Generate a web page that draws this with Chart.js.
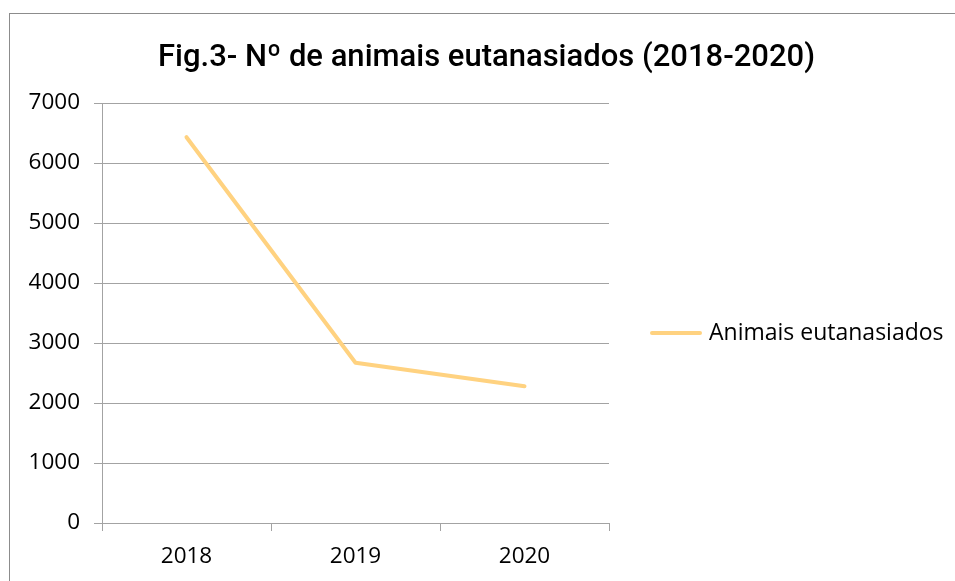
<!DOCTYPE html>
<html>
<head>
<meta charset="utf-8">
<script src="https://cdn.jsdelivr.net/npm/chart.js@4.4.1/dist/chart.umd.min.js"></script>
<style>
  body { margin: 0; overflow: hidden; background: #fff; }
  #frame { position: absolute; left: 9px; top: 13px; width: 2000px; height: 2000px;
           border-left: 1px solid #8c8c8c; border-top: 1px solid #8c8c8c; pointer-events: none; }
</style>
</head>
<body>
<canvas id="graph" width="955" height="581"></canvas>
<div id="frame"></div>
<script>
const years = ["2018", "2019", "2020"];
const euthanized = [6430, 2670, 2280];
const yTicks = [0, 1000, 2000, 3000, 4000, 5000, 6000, 7000];

const gridGray = '#a3a3a3';
const tickFont = { family: 'Open Sans', size: 22.5 };

// legend drawn by hand so it sits where the reference has it
const sideLegend = {
    id: 'sideLegend',
    afterDraw(chart) {
        const ctx = chart.ctx;
        const ds = chart.data.datasets[0];
        const y = 333;
        ctx.save();
        ctx.strokeStyle = ds.borderColor;
        ctx.lineWidth = 4;
        ctx.lineCap = 'round';
        ctx.beginPath();
        ctx.moveTo(652, y);
        ctx.lineTo(700, y);
        ctx.stroke();
        ctx.fillStyle = '#000';
        ctx.font = '23px "Open Sans"';
        ctx.textBaseline = 'middle';
        ctx.fillText(ds.label, 709, y);
        ctx.restore();
    }
};

let myChart = new Chart(document.getElementById('graph').getContext('2d'), {
    type: "line",
    data: {
        labels: years,
        datasets: [
            {
                label: "Animais eutanasiados",
                data: euthanized,
                borderColor: '#ffd280',
                borderWidth: 4,
                borderCapStyle: 'round',
                borderJoinStyle: 'round',
                pointRadius: 0,
                tension: 0,
                fill: false,
            },
        ],
    },
    options: {
        responsive: false,
        animation: false,
        layout: {
            padding: { left: 18, top: 0, right: 0, bottom: 0 },
        },
        plugins: {
            legend: { display: false },
            tooltip: { enabled: false },
            title: {
                display: true,
                text: "Fig.3- Nº de animais eutanasiados (2018-2020)",
                color: '#000',
                font: { family: 'Roboto', size: 31, weight: '500' },
                padding: { top: 40, bottom: 25.8 },
            },
        },
        scales: {
            x: {
                offset: true,
                grid: {
                    display: true,
                    offset: true,
                    drawOnChartArea: false,
                    drawTicks: true,
                    tickLength: 8,
                    color: gridGray,
                },
                border: { display: true, color: gridGray },
                ticks: { color: '#000', font: tickFont, padding: 12 },
                afterFit: s => { s.height = 58; },
            },
            y: {
                min: 0,
                max: 7000,
                afterBuildTicks: s => { s.ticks = yTicks.map(v => ({ value: v })); },
                grid: { color: gridGray, tickLength: 8 },
                border: { display: true, color: gridGray },
                ticks: { color: '#000', font: tickFont, padding: 14, callback: v => String(v) },
                afterFit: s => { s.width = 84; },
            },
            side: {
                type: 'linear',
                position: 'right',
                display: true,
                grid: { display: false },
                border: { display: false },
                ticks: { display: false },
                afterFit: s => { s.width = 346; },
            },
        },
    },
    plugins: [sideLegend],
});
</script>
</body>
</html>
